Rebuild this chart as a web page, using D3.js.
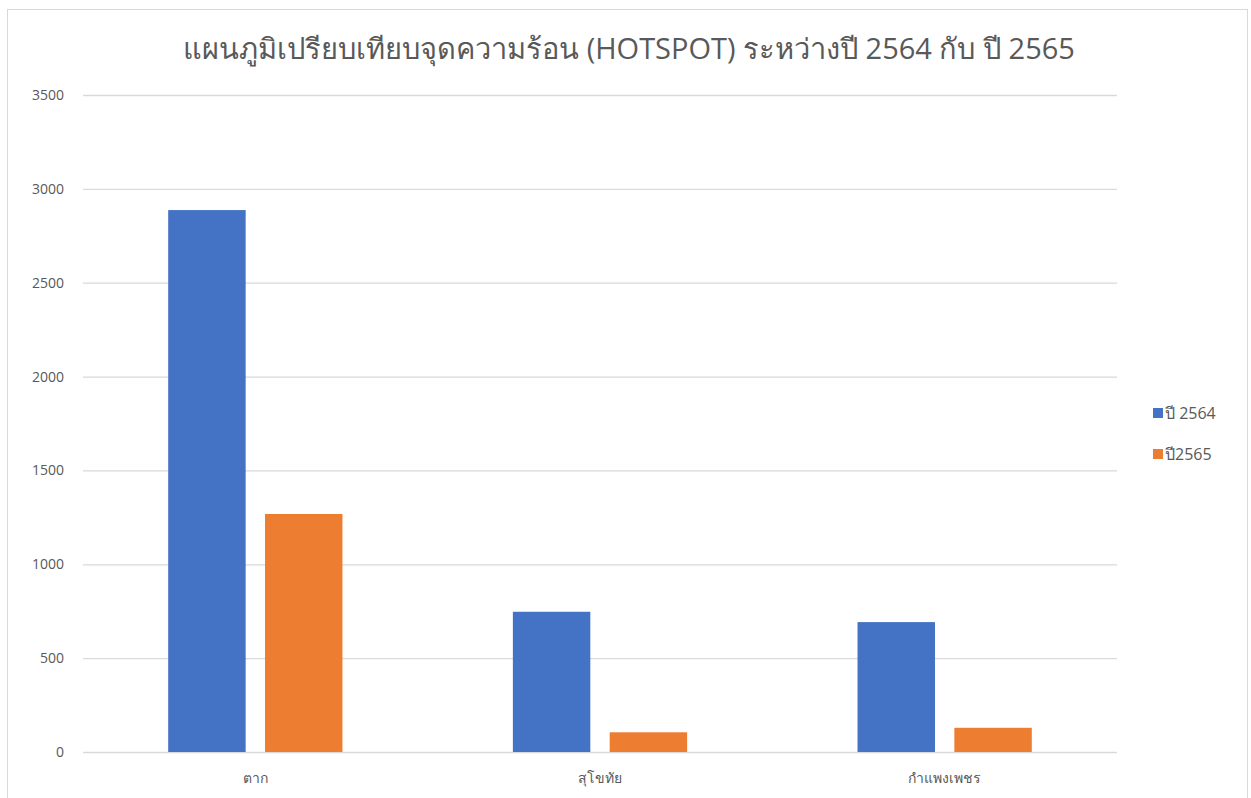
<!DOCTYPE html>
<html>
<head>
<meta charset="utf-8">
<script src="https://cdn.jsdelivr.net/npm/d3@7"></script>
<style>
  body { margin: 0; background: #fff; }
  svg text { font-family: "Open Sans", "Noto Sans", sans-serif; fill: #595959; }
</style>
</head>
<body>
<div id="chart"></div>
<script>
const categories = ["ตาก", "สุโขทัย", "กำแพงเพชร"];
const seriesNames = ["ปี 2564", "ปี2565"];
const values2564 = [2887, 747, 692];
const values2565 = [1268, 105, 129];
const yTicks = [0, 500, 1000, 1500, 2000, 2500, 3000, 3500];
const colors = ["#4472C4", "#ED7D31"];

const width = 1251, height = 798;
const margin = { top: 95, right: 134, bottom: 46, left: 83 };

const svg = d3.select("#chart")
    .append("svg")
    .attr("width", width)
    .attr("height", height);

// chart frame
svg.append("rect")
    .attr("x", 7.5)
    .attr("y", 9.5)
    .attr("width", 1240)
    .attr("height", 820)
    .attr("fill", "#fff")
    .attr("stroke", "#d9d9d9");

const x0 = d3.scaleBand()
    .domain(categories)
    .range([margin.left, width - margin.right]);

const x1 = d3.scaleBand()
    .domain(seriesNames)
    .range([0, x0.bandwidth()])
    .paddingInner(0.2)
    .paddingOuter(0.88);

const y = d3.scaleLinear()
    .domain([0, 3500])
    .range([height - margin.bottom, margin.top]);

// gridlines + y labels
svg.append("g")
    .attr("transform", "translate(" + margin.left + ",0)")
    .call(d3.axisLeft(y)
        .tickValues(yTicks)
        .tickFormat(d3.format("d"))
        .tickSize(-(width - margin.left - margin.right))
        .tickPadding(19))
    .call(g => g.select(".domain").remove())
    .call(g => g.selectAll(".tick line").attr("stroke", "#d9d9d9").attr("stroke-width", 1.3))
    .call(g => g.selectAll(".tick text").attr("font-size", 14).style("fill", "#595959"));

// bars
const rows = categories.map((c, i) => ({ cat: c, vals: [values2564[i], values2565[i]] }));

svg.append("g")
    .selectAll("g")
    .data(rows)
    .enter()
    .append("g")
    .attr("transform", d => "translate(" + x0(d.cat) + ",0)")
    .selectAll("rect")
    .data(d => d.vals.map((v, j) => ({ name: seriesNames[j], v: v, j: j })))
    .enter()
    .append("rect")
    .attr("x", d => x1(d.name))
    .attr("y", d => y(d.v))
    .attr("width", x1.bandwidth())
    .attr("height", d => y(0) - y(d.v))
    .attr("fill", d => colors[d.j]);

// x labels
svg.append("g")
    .attr("transform", "translate(0," + y(0) + ")")
    .call(d3.axisBottom(x0).tickSize(0).tickPadding(21))
    .call(g => g.select(".domain").remove())
    .call(g => g.selectAll(".tick text").attr("font-size", 14).style("fill", "#595959"));

// title
svg.append("text")
    .attr("x", 629)
    .attr("y", 59)
    .attr("text-anchor", "middle")
    .attr("font-size", 29)
    .text("แผนภูมิเปรียบเทียบจุดความร้อน (HOTSPOT) ระหว่างปี 2564 กับ ปี 2565");

// legend
const legend = svg.append("g")
    .attr("transform", "translate(1153,408)");

legend.selectAll("rect")
    .data(seriesNames)
    .enter()
    .append("rect")
    .attr("x", 0)
    .attr("y", (d, i) => i * 41)
    .attr("width", 10)
    .attr("height", 10)
    .attr("fill", (d, i) => colors[i]);

legend.selectAll("text")
    .data(seriesNames)
    .enter()
    .append("text")
    .attr("x", 12)
    .attr("y", (d, i) => i * 41 + 11)
    .attr("font-size", 16)
    .text(d => d);
</script>
</body>
</html>
